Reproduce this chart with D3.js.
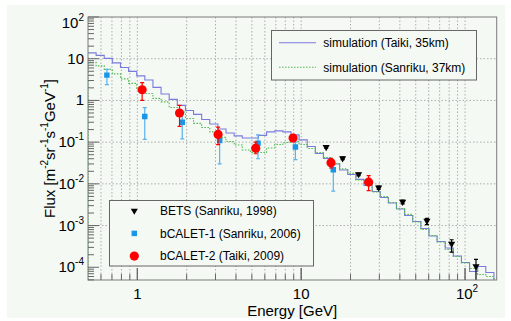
<!DOCTYPE html>
<html>
<head>
<meta charset="utf-8">
<script src="https://cdn.jsdelivr.net/npm/d3@7"></script>
<style>
  body { margin: 0; background: #fff; }
  text { font-family: 'Liberation Sans', Arial, sans-serif; }
</style>
</head>
<body>
<svg id="chart" width="511" height="321"></svg>
<script>
// simulated spectra, 50 log bins between histLo and histHi
var histLo = 0.5
var histHi = 150
var taikiFlux = [13.8, 12.0, 10.2, 7.93, 6.18, 4.96, 3.87, 3.10, 2.05, 1.43,
  1.06, 0.759, 0.575, 0.462, 0.350, 0.273, 0.207, 0.166, 0.141, 0.126,
  0.126, 0.145, 0.176, 0.186, 0.176, 0.149, 0.113, 0.0788, 0.0536, 0.0407,
  0.0300, 0.0215, 0.0168, 0.0128, 0.00916, 0.00658, 0.00472, 0.00348, 0.00250, 0.00175,
  0.00125, 0.000851, 0.000564, 0.000416, 0.000290, 0.000187, 0.000130, 0.0000793, 0.000104, 0.000075]
var sanrikuFlux = [8.15, 6.72, 5.54, 4.32, 3.28, 2.56, 1.94, 1.47, 1.12, 0.921,
  0.679, 0.530, 0.370, 0.281, 0.225, 0.176, 0.130, 0.104, 0.0857, 0.0650,
  0.0566, 0.0566, 0.0726, 0.0881, 0.0984, 0.104, 0.0881, 0.0706, 0.0566, 0.0430,
  0.0308, 0.0228, 0.0178, 0.0124, 0.00968, 0.00640, 0.00499, 0.00358, 0.00257, 0.00185,
  0.00122, 0.000805, 0.000579, 0.000405, 0.000267, 0.000182, 0.000127, 0.0000935, 0.0000671, 0.000060]

// measurements: [energy, flux, low, high]
var betsData = [
  [14.2, 0.076, 0.072, 0.080],
  [17.9, 0.041, 0.038, 0.044],
  [22.4, 0.017, 0.0158, 0.0182],
  [29.7, 0.0081, 0.0074, 0.0088],
  [41.6, 0.0037, 0.0033, 0.0041],
  [58.5, 0.0013, 0.00105, 0.00148],
  [82.8, 0.000366, 0.00023, 0.000457],
  [116.6, 0.000105, 0.00004, 0.000154]
]
var calet1Data = [
  [0.652, 4.04, 2.38, 5.54],
  [1.11, 0.41, 0.116, 0.67],
  [1.88, 0.30, 0.12, 0.516],
  [3.18, 0.11, 0.030, 0.15],
  [5.45, 0.094, 0.040, 0.15],
  [9.22, 0.076, 0.038, 0.10],
  [15.7, 0.0218, 0.0067, 0.030]
]
var calet2Data = [
  [1.07, 1.8, 1.0, 2.66],
  [1.81, 0.50, 0.24, 0.76],
  [3.11, 0.153, 0.087, 0.23],
  [5.28, 0.0718, 0.0527, 0.10],
  [8.92, 0.125, 0.110, 0.142],
  [15.2, 0.032, 0.024, 0.041],
  [25.8, 0.011, 0.0069, 0.0157]
]

var simLegend = ['simulation (Taiki, 35km)', 'simulation (Sanriku, 37km)']
var dataLegend = ['BETS (Sanriku, 1998)', 'bCALET-1 (Sanriku, 2006)', 'bCALET-2 (Taiki, 2009)']
var yTickPowers = [2, 1, 0, -1, -2, -3, -4]
var xTickPowers = [0, 1, 2]

var colTaiki = '#7b7bdc'
var colSanriku = '#4fb84f'
var colBlue = '#1a96e6'
var colBlueErr = '#5ab2ec'
var colRed = '#ff0000'
var bg = '#f4f9f4'

var pLeft = 88, pRight = 496.7, pTop = 17, pBottom = 280

var svg = d3.select('#chart')
svg.append('rect').attr('x', 7).attr('y', 5).attr('width', 498).attr('height', 313).attr('fill', bg)

var x = d3.scaleLog().domain([0.5, 156]).range([pLeft, pRight])
var y = d3.scaleLog().domain([Math.pow(10, -4.305), 100]).range([pBottom, pTop])

svg.append('clipPath').attr('id', 'plotclip')
  .append('rect').attr('x', pLeft).attr('y', pTop).attr('width', pRight - pLeft).attr('height', pBottom - pTop)

// grid
var xGrid = []
for (var p = -1; p <= 2; p++) {
  for (var m = 1; m <= 9; m++) {
    var v = m * Math.pow(10, p)
    if (v > 0.5 && v < 156) xGrid.push(v)
  }
}
var grid = svg.append('g').attr('stroke', '#9a9a9a').attr('stroke-width', 0.8).attr('stroke-dasharray', '1.5,2')
grid.selectAll('line.vx').data(xGrid).join('line')
  .attr('x1', (d) => x(d)).attr('x2', (d) => x(d)).attr('y1', pTop).attr('y2', pBottom)
grid.selectAll('line.hy').data(yTickPowers.slice(1, 6)).join('line')
  .attr('x1', pLeft).attr('x2', pRight).attr('y1', (d) => y(Math.pow(10, d))).attr('y2', (d) => y(Math.pow(10, d)))

// histograms
var edges = d3.range(taikiFlux.length + 1).map(function (i) {
  return x.invert(x(histLo) + (x(histHi) - x(histLo)) * i / taikiFlux.length)
})
var histPath = function (vals, fromBottom) {
  var s = fromBottom ? 'M' + x(edges[0]) + ',' + pBottom + 'V' + y(vals[0]) : 'M' + x(edges[0]) + ',' + y(vals[0])
  vals.forEach(function (v, i) {
    if (i > 0) s += 'V' + y(v)
    s += 'H' + x(edges[i + 1])
  })
  return s + 'V' + pBottom
}
var plot = svg.append('g').attr('clip-path', 'url(#plotclip)')
plot.append('path').attr('d', histPath(taikiFlux, false))
  .attr('fill', 'none').attr('stroke', colTaiki).attr('stroke-width', 1.1)
plot.append('path').attr('d', histPath(sanrikuFlux, true))
  .attr('fill', 'none').attr('stroke', colSanriku).attr('stroke-width', 1.1).attr('stroke-dasharray', '1.5,1.5')

// error bars + markers
var drawSeries = function (data, col, errCol, drawMarker) {
  var g = plot.append('g')
  var eb = g.selectAll('g.err').data(data).join('g').attr('stroke', errCol).attr('stroke-width', 1.2)
  eb.append('line').attr('x1', (d) => x(d[0])).attr('x2', (d) => x(d[0]))
    .attr('y1', (d) => y(d[2])).attr('y2', (d) => y(d[3]))
  eb.append('line').attr('x1', (d) => x(d[0]) - 2).attr('x2', (d) => x(d[0]) + 2)
    .attr('y1', (d) => y(d[2])).attr('y2', (d) => y(d[2]))
  eb.append('line').attr('x1', (d) => x(d[0]) - 2).attr('x2', (d) => x(d[0]) + 2)
    .attr('y1', (d) => y(d[3])).attr('y2', (d) => y(d[3]))
  drawMarker(g.selectAll('path.mk').data(data).join('path')
    .attr('fill', col)
    .attr('transform', (d) => 'translate(' + x(d[0]) + ',' + y(d[1]) + ')'))
}
var triDown = function (sel) {
  sel.attr('d', d3.symbol().type(d3.symbolTriangle).size(22)())
    .attr('transform', function (d) { return 'translate(' + x(d[0]) + ',' + y(d[1]) + ') rotate(180)' })
}
var square = function (sel) { sel.attr('d', d3.symbol().type(d3.symbolSquare).size(30)()) }
var circle = function (sel) { sel.attr('d', d3.symbol().type(d3.symbolCircle).size(66)()) }

drawSeries(betsData, '#000', '#000', triDown)
drawSeries(calet1Data, colBlue, colBlueErr, square)
drawSeries(calet2Data, colRed, colRed, circle)

// frame
svg.append('rect').attr('x', pLeft).attr('y', pTop).attr('width', pRight - pLeft).attr('height', pBottom - pTop)
  .attr('fill', 'none').attr('stroke', '#7a7a7a').attr('stroke-width', 1)

// ticks
var ticks = svg.append('g').attr('stroke', '#666').attr('stroke-width', 1)
for (var py = -5; py <= 2; py++) {
  for (var my = 1; my <= 9; my++) {
    var vy = my * Math.pow(10, py)
    if (vy < y.domain()[0] || vy > 100) continue
    ticks.append('line').attr('x1', pLeft).attr('x2', pLeft + (my === 1 ? 11 : 6))
      .attr('y1', y(vy)).attr('y2', y(vy))
  }
}
xGrid.concat([1, 10, 100]).forEach(function (v) {
  var major = [1, 10, 100].indexOf(v) >= 0
  ticks.append('line').attr('x1', x(v)).attr('x2', x(v)).attr('y1', pBottom).attr('y2', pBottom - (major ? 12 : 6))
})

// tick labels with superscripts
var powLabel = function (sel, p) {
  if (p === 0) { sel.text('1'); return }
  sel.append('tspan').text('10')
  if (p !== 1) sel.append('tspan').attr('font-size', 10).attr('dy', -7).text(p)
}
yTickPowers.forEach(function (p) {
  var t = svg.append('text').attr('x', 84).attr('y', y(Math.pow(10, p)) + 5 + (p === 2 ? 6 : 0))
    .attr('text-anchor', 'end').attr('font-size', 15).attr('fill', '#000')
  powLabel(t, p)
})
xTickPowers.forEach(function (p) {
  var t = svg.append('text').attr('x', x(Math.pow(10, p)) + (p === 2 ? 2 : 0)).attr('y', 299)
    .attr('text-anchor', 'middle').attr('font-size', 15).attr('fill', '#000')
  powLabel(t, p)
})

// axis titles
svg.append('text').attr('x', pRight - 159.5).attr('y', 315.5).attr('text-anchor', 'end')
  .attr('font-size', 15).text('Energy [GeV]')
var yt = svg.append('text').attr('transform', 'translate(48,' + (pTop + pBottom) / 2 + ') rotate(-90)')
  .attr('text-anchor', 'middle').attr('font-size', 15)
var ytParts = [['Flux [m', ''], ['-2', 's'], ['sr', ''], ['-1', 's'], ['s', ''], ['-1', 's'], ['GeV', ''], ['-1', 's'], [']', '']]
ytParts.forEach(function (pt) {
  if (pt[1] === 's') yt.append('tspan').attr('font-size', 10).attr('dy', -7).text(pt[0])
  else yt.append('tspan').attr('dy', yt.selectAll('tspan').size() ? 7 : 0).text(pt[0])
})

// legends
var leg1 = svg.append('g')
leg1.append('rect').attr('x', 271.5).attr('y', 30.5).attr('width', 205).attr('height', 49.5)
  .attr('fill', bg).attr('stroke', '#666')
simLegend.forEach(function (s, i) {
  var ly = 42.7 + i * 24.6
  leg1.append('line').attr('x1', 279).attr('x2', 316).attr('y1', ly).attr('y2', ly)
    .attr('stroke', i === 0 ? colTaiki : colSanriku).attr('stroke-width', 1.1)
    .attr('stroke-dasharray', i === 0 ? null : '1.5,1.5')
  leg1.append('text').attr('x', 323.3).attr('y', ly + 4.3).attr('font-size', 12).text(s)
})

var leg2 = svg.append('g')
leg2.append('rect').attr('x', 109.5).attr('y', 200.5).attr('width', 204).attr('height', 65.5)
  .attr('fill', bg).attr('stroke', '#666')
var mk = [
  { sym: d3.symbolTriangle, size: 22, col: '#000', rot: 180 },
  { sym: d3.symbolSquare, size: 30, col: colBlue, rot: 0 },
  { sym: d3.symbolCircle, size: 66, col: colRed, rot: 0 }
]
dataLegend.forEach(function (s, i) {
  var ly = 210.7 + i * 22.7
  leg2.append('path').attr('d', d3.symbol().type(mk[i].sym).size(mk[i].size)())
    .attr('fill', mk[i].col).attr('transform', 'translate(134.3,' + ly + ') rotate(' + mk[i].rot + ')')
  leg2.append('text').attr('x', 160).attr('y', ly + 4.3).attr('font-size', 12).text(s)
})
</script>
</body>
</html>
